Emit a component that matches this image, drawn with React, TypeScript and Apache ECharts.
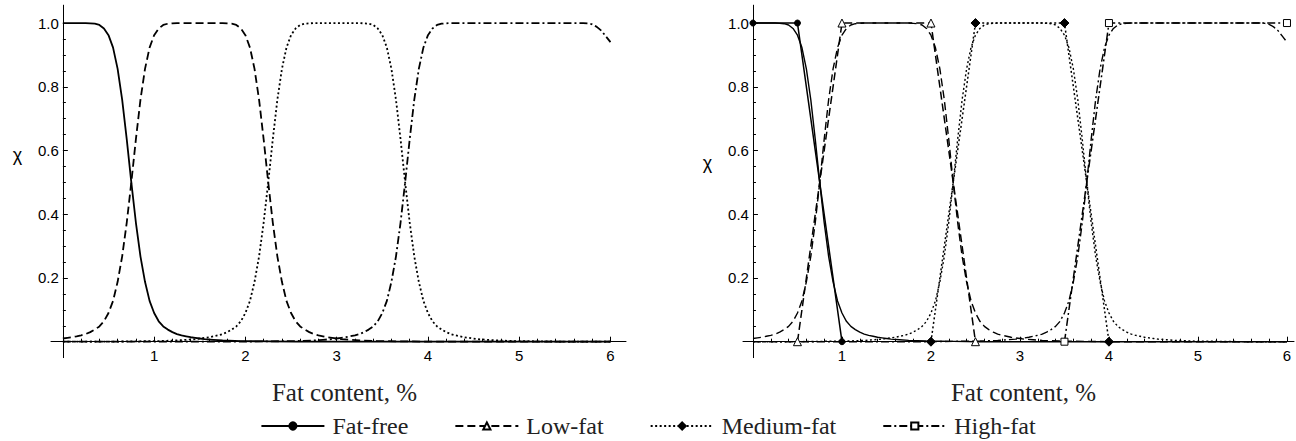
import React, { useEffect, useRef } from "react";
import * as echarts from "echarts";

// ---------- data ----------
const CATEGORIES = ["Fat-free", "Low-fat", "Medium-fat", "High-fat"];
const X_AXIS_TITLE = "Fat content, %";
const Y_AXIS_TITLE = "χ";

const X_MAJOR_TICKS = [1, 2, 3, 4, 5, 6];
const X_MINOR_TICKS = [0.2, 0.4, 0.6, 0.8, 1.2, 1.4, 1.6, 1.8, 2.2, 2.4, 2.6, 2.8, 3.2, 3.4, 3.6, 3.8, 4.2, 4.4, 4.6, 4.8, 5.2, 5.4, 5.6, 5.8];
const Y_MAJOR_TICKS = [0.2, 0.4, 0.6, 0.8, 1.0];
const Y_MINOR_TICKS = [0.05, 0.1, 0.15, 0.25, 0.3, 0.35, 0.45, 0.5, 0.55, 0.65, 0.7, 0.75, 0.85, 0.9, 0.95];

// smooth membership curves [fat %, chi]
const FAT_FREE_SMOOTH = [
  [0, 1], [0.25, 1], [0.3, 0.999], [0.35, 0.998], [0.4, 0.994], [0.45, 0.983], [0.5, 0.962], [0.55, 0.923],
  [0.6, 0.856], [0.65, 0.759], [0.7, 0.635], [0.75, 0.5], [0.8, 0.374], [0.85, 0.268], [0.9, 0.188], [0.95, 0.128],
  [1.0, 0.09], [1.05, 0.064], [1.1, 0.048], [1.15, 0.038], [1.2, 0.03], [1.25, 0.024], [1.3, 0.02], [1.35, 0.017],
  [1.4, 0.014], [1.45, 0.012], [1.5, 0.01], [1.55, 0.008], [1.65, 0.006], [1.75, 0.004], [1.95, 0.002], [2.25, 0.001],
  [2.55, 0], [6, 0],
];
const LOW_FAT_SMOOTH = [
  [0, 0.01], [0.05, 0.012], [0.1, 0.014], [0.15, 0.017], [0.2, 0.02], [0.25, 0.024], [0.3, 0.03], [0.35, 0.038],
  [0.4, 0.048], [0.45, 0.064], [0.5, 0.09], [0.55, 0.128], [0.6, 0.188], [0.65, 0.268], [0.7, 0.374], [0.75, 0.5],
  [0.8, 0.635], [0.85, 0.759], [0.9, 0.856], [0.95, 0.923], [1.0, 0.962], [1.05, 0.983], [1.1, 0.994], [1.15, 0.998],
  [1.2, 0.999], [1.25, 1], [1.75, 1], [1.8, 0.999], [1.85, 0.998], [1.9, 0.994], [1.95, 0.983], [2.0, 0.962],
  [2.05, 0.923], [2.1, 0.856], [2.15, 0.759], [2.2, 0.635], [2.25, 0.5], [2.3, 0.374], [2.35, 0.268], [2.4, 0.188],
  [2.45, 0.128], [2.5, 0.09], [2.55, 0.064], [2.6, 0.048], [2.65, 0.038], [2.7, 0.03], [2.75, 0.024], [2.8, 0.02],
  [2.85, 0.017], [2.9, 0.014], [2.95, 0.012], [3.0, 0.01], [3.05, 0.008], [3.15, 0.006], [3.25, 0.004], [3.45, 0.002],
  [3.75, 0.001], [4.05, 0], [6, 0],
];
const MEDIUM_FAT_SMOOTH = [
  [0, 0], [0.45, 0], [0.75, 0.001], [1.05, 0.002], [1.25, 0.004], [1.35, 0.006], [1.45, 0.008], [1.5, 0.01],
  [1.55, 0.012], [1.6, 0.014], [1.65, 0.017], [1.7, 0.02], [1.75, 0.024], [1.8, 0.03], [1.85, 0.038], [1.9, 0.048],
  [1.95, 0.064], [2.0, 0.09], [2.05, 0.128], [2.1, 0.188], [2.15, 0.268], [2.2, 0.374], [2.25, 0.5], [2.3, 0.635],
  [2.35, 0.759], [2.4, 0.856], [2.45, 0.923], [2.5, 0.962], [2.55, 0.983], [2.6, 0.994], [2.65, 0.998], [2.7, 0.999],
  [2.75, 1], [3.25, 1], [3.3, 0.999], [3.35, 0.998], [3.4, 0.994], [3.45, 0.983], [3.5, 0.962], [3.55, 0.923],
  [3.6, 0.856], [3.65, 0.759], [3.7, 0.635], [3.75, 0.5], [3.8, 0.374], [3.85, 0.268], [3.9, 0.188], [3.95, 0.128],
  [4.0, 0.09], [4.05, 0.064], [4.1, 0.048], [4.15, 0.038], [4.2, 0.03], [4.25, 0.024], [4.3, 0.02], [4.35, 0.017],
  [4.4, 0.014], [4.45, 0.012], [4.5, 0.01], [4.55, 0.008], [4.65, 0.006], [4.75, 0.004], [4.95, 0.002], [5.25, 0.001],
  [5.55, 0], [6, 0],
];
const HIGH_FAT_SMOOTH = [
  [0, 0], [1.95, 0], [2.25, 0.001], [2.55, 0.002], [2.75, 0.004], [2.85, 0.006], [2.95, 0.008], [3.0, 0.01],
  [3.05, 0.012], [3.1, 0.014], [3.15, 0.017], [3.2, 0.02], [3.25, 0.024], [3.3, 0.03], [3.35, 0.038], [3.4, 0.048],
  [3.45, 0.064], [3.5, 0.09], [3.55, 0.128], [3.6, 0.188], [3.65, 0.268], [3.7, 0.374], [3.75, 0.5], [3.8, 0.635],
  [3.85, 0.759], [3.9, 0.856], [3.95, 0.923], [4.0, 0.962], [4.05, 0.983], [4.1, 0.994], [4.15, 0.998], [4.2, 0.999],
  [4.25, 1], [5.7, 1], [5.75, 0.999], [5.8, 0.996], [5.85, 0.988], [5.9, 0.976], [5.95, 0.958], [6.0, 0.94],
];

// piecewise-linear (trapezoidal) membership functions, right panel
const FAT_FREE_LINEAR = [[0, 1], [0.5, 1], [1, 0]];
const LOW_FAT_LINEAR = [[0.5, 0], [1, 1], [2, 1], [2.5, 0]];
const MEDIUM_FAT_LINEAR = [[2, 0], [2.5, 1], [3.5, 1], [4, 0]];
const HIGH_FAT_LINEAR = [[3.5, 0], [4, 1], [6, 1]];

const SMOOTH = [FAT_FREE_SMOOTH, LOW_FAT_SMOOTH, MEDIUM_FAT_SMOOTH, HIGH_FAT_SMOOTH];
const LINEAR = [FAT_FREE_LINEAR, LOW_FAT_LINEAR, MEDIUM_FAT_LINEAR, HIGH_FAT_LINEAR];

// ---------- styles ----------
const DASHES: any[] = ["solid", [8, 4], [2, 2.5], [8, 3, 2, 3]];
const MARKERS = [
  { symbol: "circle", size: 6, fill: "#000" },
  { symbol: "triangle", size: 8, fill: "#fff" },
  { symbol: "diamond", size: 9, fill: "#000" },
  { symbol: "rect", size: 7, fill: "#fff" },
];

const SERIF = "'Liberation Serif', 'Times New Roman', Times, serif";
const SANS = "'Liberation Sans', Arial, Helvetica, sans-serif";
const TICK_FONT = { fontFamily: SANS, fontSize: 15, color: "#000" };
const Y_MIN = -0.05;
const Y_MAX = 1.056;
const ZERO_Y = 341.7; // pixel row of chi = 0
const TOP_Y = 5.2; // pixel row of chi = Y_MAX
const PX_PER_Y = (ZERO_Y - TOP_Y) / Y_MAX;

const PANELS = [
  { extLeft: 51, extWidth: 575, xMin: -0.13, xMax: 6.17, lw: 1.8, chiX: 17.5, chiY: 155 },
  { extLeft: 743, extWidth: 551, xMin: -0.112, xMax: 6.079, lw: 1.4, chiX: 707.5, chiY: 163 },
];

function buildOption() {
  const grid: any[] = [];
  const xAxis: any[] = [];
  const yAxis: any[] = [];
  const series: any[] = [];
  const graphic: any[] = [];

  PANELS.forEach((p, g) => {
    const pxPerX = p.extWidth / (p.xMax - p.xMin);
    const x0 = p.extLeft - p.xMin * pxPerX;
    const gMain = g * 2;
    const gExt = g * 2 + 1;
    const a = g * 3; // major axis index, a+1 minor, a+2 extension

    // main grid: origin at its bottom-left corner
    grid.push({ left: x0, width: p.xMax * pxPerX, top: TOP_Y, height: ZERO_Y - TOP_Y });
    // extension grid: axes lines running a little past the origin
    grid.push({
      left: p.extLeft, width: p.extWidth, top: TOP_Y,
      height: ZERO_Y - TOP_Y + (0 - Y_MIN) * PX_PER_Y,
    });

    xAxis.push({
      gridIndex: gMain, type: "value", position: "bottom", min: 0, max: p.xMax,
      axisLine: { show: false, onZero: false },
      axisTick: { show: true, inside: true, length: 5, customValues: X_MAJOR_TICKS, lineStyle: { color: "#000", width: 1 } },
      axisLabel: { show: true, customValues: X_MAJOR_TICKS, margin: 6, ...TICK_FONT },
      splitLine: { show: false },
      name: X_AXIS_TITLE, nameLocation: "middle", nameGap: 38,
      nameTextStyle: { fontFamily: SERIF, fontSize: 25, color: "#222" },
    });
    xAxis.push({
      gridIndex: gMain, type: "value", position: "bottom", min: 0, max: p.xMax,
      axisLine: { show: false, onZero: false },
      axisTick: { show: true, inside: true, length: 3, customValues: X_MINOR_TICKS, lineStyle: { color: "#000", width: 1 } },
      axisLabel: { show: false },
      splitLine: { show: false },
    });
    xAxis.push({
      gridIndex: gExt, type: "value", position: "bottom", min: p.xMin, max: p.xMax,
      axisLine: { show: true, onZero: true, onZeroAxisIndex: a + 2, lineStyle: { color: "#000", width: 1 } },
      axisTick: { show: false }, axisLabel: { show: false }, splitLine: { show: false },
    });

    yAxis.push({
      gridIndex: gMain, type: "value", position: "left", min: 0, max: Y_MAX,
      axisLine: { show: false, onZero: false },
      axisTick: { show: true, inside: true, length: 5, customValues: Y_MAJOR_TICKS, lineStyle: { color: "#000", width: 1 } },
      axisLabel: { show: true, customValues: Y_MAJOR_TICKS, margin: 4, formatter: (v: number) => v.toFixed(1), ...TICK_FONT },
      splitLine: { show: false },
    });
    yAxis.push({
      gridIndex: gMain, type: "value", position: "left", min: 0, max: Y_MAX,
      axisLine: { show: false, onZero: false },
      axisTick: { show: true, inside: true, length: 3, customValues: Y_MINOR_TICKS, lineStyle: { color: "#000", width: 1 } },
      axisLabel: { show: false },
      splitLine: { show: false },
    });
    yAxis.push({
      gridIndex: gExt, type: "value", position: "left", min: Y_MIN, max: Y_MAX,
      axisLine: { show: true, onZero: true, onZeroAxisIndex: a + 2, lineStyle: { color: "#000", width: 1 } },
      axisTick: { show: false }, axisLabel: { show: false }, splitLine: { show: false },
    });

    SMOOTH.forEach((d, i) => {
      series.push({
        name: CATEGORIES[i] + " (curve " + (g + 1) + ")",
        type: "line", xAxisIndex: a, yAxisIndex: a, data: d,
        showSymbol: false, symbol: "none", smooth: false, silent: true, clip: false,
        lineStyle: { color: "#000", width: p.lw, type: DASHES[i] },
        z: 2,
      });
    });

    graphic.push({
      type: "text", x: p.chiX, y: p.chiY,
      style: { text: Y_AXIS_TITLE, font: "18px " + SANS, fill: "#000", align: "center", verticalAlign: "middle" },
    });
  });

  LINEAR.forEach((d, i) => {
    const m = MARKERS[i];
    series.push({
      name: CATEGORIES[i], type: "line", xAxisIndex: 3, yAxisIndex: 3, data: d,
      showSymbol: true, symbol: m.symbol, symbolSize: m.size, silent: true, clip: false,
      itemStyle: { color: m.fill, borderColor: "#000", borderWidth: 1 },
      lineStyle: { color: "#000", width: 1.5, type: DASHES[i] },
      z: 3,
    });
  });

  return {
    animation: false,
    backgroundColor: "#fff",
    grid, xAxis, yAxis, series, graphic,
    legend: {
      data: CATEGORIES, left: "center", top: 409, orient: "horizontal",
      itemWidth: 63, itemHeight: 9, itemGap: 46, selectedMode: false,
      lineStyle: { width: 2 },
      textStyle: { fontFamily: SERIF, fontSize: 24, color: "#222", padding: [0, 0, 0, 3] },
    },
  };
}

export default function App() {
  const ref = useRef<HTMLDivElement>(null);
  useEffect(() => {
    if (!ref.current) return;
    const chart = echarts.init(ref.current, null, { renderer: "svg" });
    chart.setOption(buildOption() as any);
    return () => chart.dispose();
  }, []);
  return (
    <div
      ref={ref}
      style={{ position: "fixed", left: 0, top: 0, width: 1296, height: 441, background: "#fff" }}
    />
  );
}
